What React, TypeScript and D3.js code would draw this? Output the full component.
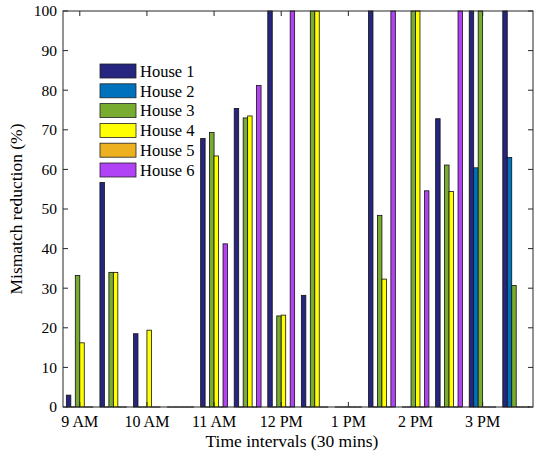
import React from 'react';
import * as d3 from 'd3';

// 30 min intervals from 9 AM to 3:30 PM
const intervals = ['9:00', '9:30', '10:00', '10:30', '11:00', '11:30', '12:00', '12:30', '13:00', '13:30', '14:00', '14:30', '15:00', '15:30'];
const houses = ['House 1', 'House 2', 'House 3', 'House 4', 'House 5', 'House 6'];
const colors = ['#262680', '#0072BD', '#77AC30', '#FFFF00', '#EDB120', '#B142F5'];

const house1 = [3, 56.7, 18.5, 0, 67.8, 75.4, 100, 28.2, 0, 100, 0, 72.8, 100, 100];
const house2 = [0, 0, 0, 0, 0, 0, 0, 0, 0, 0, 0, 0, 60.4, 63];
const house3 = [33.2, 34, 0, 0, 69.3, 73, 23, 100, 0, 48.4, 100, 61.1, 100, 30.7];
const house4 = [16.2, 34, 19.4, 0, 63.4, 73.5, 23.2, 100, 0, 32.3, 100, 54.4, 0, 0];
const house5 = [0, 0, 0, 0, 0, 0, 0, 0, 0, 0, 0, 0, 0, 0];
const house6 = [0, 0, 0, 0, 41.2, 81.2, 100, 0, 0, 100, 54.6, 100, 0, 0];
const series = [house1, house2, house3, house4, house5, house6];

const xTickLabels = ['9 AM', '10 AM', '11 AM', '12 PM', '1 PM', '2 PM', '3 PM'];
const yTicks = [0, 10, 20, 30, 40, 50, 60, 70, 80, 90, 100];

const W = 538;
const H = 458;
const left = 63, right = 533, top = 11, bottom = 407;
const font = '"Liberation Serif", "Times New Roman", serif';
const axisColor = '#262626';

export default function App() {
  const x = d3.scaleLinear().domain([0.5, intervals.length + 0.5]).range([left, right]);
  const y = d3.scaleLinear().domain([0, 100]).range([bottom, top]);
  const groupW = x(1.8) - x(1); // 0.8 of a slot
  const barW = groupW / houses.length;

  const bars: React.ReactNode[] = [];
  series.forEach((vals, h) => {
    vals.forEach((v, i) => {
      const x0 = x(i + 1) - groupW / 2 + h * barW;
      if (v > 0) {
        bars.push(
          <rect key={`b${h}-${i}`} x={x0} y={y(v)} width={barW} height={y(0) - y(v)}
            fill={colors[h]} stroke="#111" strokeWidth={0.8} />
        );
      } else {
        bars.push(
          <line key={`b${h}-${i}`} x1={x0} x2={x0 + barW} y1={y(0)} y2={y(0)} stroke="#333" strokeWidth={1.2} />
        );
      }
    });
  });

  const xTickPos = xTickLabels.map((_, k) => x(1 + 2 * k));

  return (
    <svg width={W} height={H} style={{ position: 'absolute', left: 0, top: 0, background: '#fff' }}>
      <rect x={0} y={0} width={W} height={H} fill="#fff" />
      {bars}
      {/* box */}
      <rect x={left} y={top} width={right - left} height={bottom - top} fill="none" stroke={axisColor} strokeWidth={1} />
      {/* y ticks */}
      {yTicks.map(t => (
        <g key={`y${t}`}>
          <line x1={left} x2={left + 5} y1={y(t)} y2={y(t)} stroke={axisColor} />
          <line x1={right} x2={right - 5} y1={y(t)} y2={y(t)} stroke={axisColor} />
          <text x={left - 6} y={y(t)} dy="0.35em" textAnchor="end" fontFamily={font} fontSize={15.5} fill="#000">{t}</text>
        </g>
      ))}
      {/* x ticks */}
      {xTickLabels.map((lab, k) => (
        <g key={`x${k}`}>
          <line x1={xTickPos[k]} x2={xTickPos[k]} y1={bottom} y2={bottom - 5} stroke={axisColor} />
          <line x1={xTickPos[k]} x2={xTickPos[k]} y1={top} y2={top + 5} stroke={axisColor} />
          <text x={xTickPos[k]} y={427} textAnchor="middle" fontFamily={font} fontSize={16} fill="#000">{lab}</text>
        </g>
      ))}
      <text x={(left + right) / 2 - 6} y={447} textAnchor="middle" fontFamily={font} fontSize={17.5} fill="#000">
        Time intervals (30 mins)
      </text>
      <text transform={`translate(22,${(top + bottom) / 2}) rotate(-90)`} textAnchor="middle" fontFamily={font} fontSize={17.5} fill="#000">
        Mismatch reduction (%)
      </text>
      {/* legend */}
      {houses.map((name, h) => (
        <g key={`l${h}`} transform={`translate(100,${64 + h * 19.8})`}>
          <rect x={0} y={0} width={36} height={14} fill={colors[h]} stroke="#222" strokeWidth={0.8} />
          <text x={40} y={7} dy="0.35em" fontFamily={font} fontSize={16.5} fill="#000">{name}</text>
        </g>
      ))}
    </svg>
  );
}
